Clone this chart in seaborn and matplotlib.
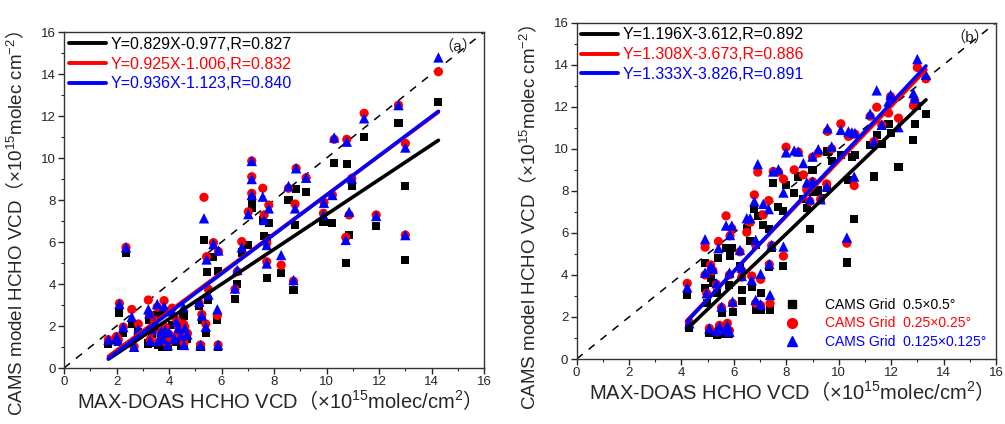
import matplotlib
matplotlib.use('Agg')
import matplotlib.pyplot as plt
from matplotlib.lines import Line2D
from matplotlib.ticker import MultipleLocator
import seaborn as sns
import numpy as np

### Scatter of CAMS model HCHO VCD vs MAX-DOAS HCHO VCD, three grid resolutions

# panel (a)
xa = [1.69, 2.00, 2.07, 2.11, 2.26, 2.36, 2.58, 2.67, 2.83, 3.21,
      3.25, 3.28, 3.35, 3.55, 3.60, 3.75, 3.81, 3.85, 3.95, 4.00,
      4.12, 4.28, 4.35, 4.45, 4.55, 4.57, 4.60, 5.15, 5.20, 5.25,
      5.33, 5.40, 5.43, 5.50, 5.69, 5.84, 5.87, 5.88, 6.51, 6.60,
      6.77, 7.02, 7.15, 7.15, 7.15, 7.57, 7.62, 7.72, 7.72, 7.80,
      8.27, 8.55, 8.74, 8.80, 8.84, 9.22, 9.88, 9.90, 10.22, 10.29,
      10.73, 10.77, 10.86, 10.96, 11.43, 11.89, 12.74, 13.00, 13.00, 14.26,
      3.45, 3.70, 4.20, 4.70]
a_grid05 = [1.17, 1.33, 1.25, 2.60, 1.68, 5.49, 2.10, 0.95, 1.70, 1.17,
            2.30, 1.20, 1.60, 2.50, 1.10, 1.00, 2.70, 1.60, 1.00, 1.35,
            2.05, 1.30, 1.50, 1.05, 2.50, 1.05, 1.85, 2.97, 1.00, 2.30,
            6.10, 1.65, 4.59, 3.25, 5.30, 2.30, 1.00, 4.60, 3.27, 3.98,
            5.50, 5.86, 8.00, 7.76, 7.60, 7.05, 6.30, 6.17, 4.27, 6.90,
            4.51, 8.00, 3.71, 6.81, 8.51, 8.40, 6.97, 6.95, 6.92, 9.75,
            5.02, 9.70, 6.33, 8.67, 11.00, 6.76, 11.68, 8.68, 5.14, 12.68,
            1.90, 1.45, 1.25, 1.40]
a_grid025 = [1.35, 1.50, 1.35, 3.08, 1.95, 5.75, 2.79, 1.02, 2.10, 3.24,
             2.55, 1.35, 1.75, 2.90, 1.25, 1.25, 3.21, 1.95, 1.20, 1.60,
             2.85, 2.30, 2.00, 1.70, 2.10, 1.20, 1.95, 3.10, 1.10, 2.55,
             8.13, 2.10, 5.30, 3.75, 5.97, 2.50, 1.10, 5.55, 3.75, 4.59,
             6.02, 7.44, 9.86, 9.11, 8.32, 8.56, 7.29, 5.94, 5.06, 7.76,
             4.90, 8.56, 4.14, 7.81, 9.51, 9.06, 7.37, 7.90, 8.24, 10.89,
             6.22, 10.89, 7.29, 9.03, 12.13, 7.29, 12.52, 10.70, 6.33, 14.11,
             2.25, 1.70, 1.45, 1.65]
a_grid0125 = [1.35, 1.47, 1.30, 3.05, 1.95, 5.75, 2.44, 1.02, 1.85, 2.80,
              2.60, 1.30, 1.85, 3.05, 1.30, 1.40, 2.95, 1.80, 1.10, 1.70,
              2.70, 2.20, 1.90, 1.55, 2.90, 1.10, 1.90, 3.16, 1.10, 2.50,
              7.13, 1.97, 5.17, 3.50, 5.90, 2.80, 1.10, 5.60, 3.79, 4.67,
              5.75, 7.33, 9.86, 9.00, 8.24, 8.16, 7.05, 5.86, 4.98, 7.60,
              5.38, 8.67, 4.19, 7.60, 9.51, 9.06, 7.29, 7.87, 8.24, 10.98,
              6.10, 10.78, 7.44, 9.03, 11.89, 7.24, 12.52, 10.50, 6.33, 14.79,
              2.15, 1.75, 1.40, 1.60]
a_slope = [0.829, 0.925, 0.936]
a_icpt = [-0.977, -1.006, -1.123]
a_r = ['0.827', '0.832', '0.840']

# panel (b)
xb = [4.22, 4.30, 4.90, 4.90, 4.96, 5.06, 5.11, 5.20, 5.34, 5.34,
      5.41, 5.45, 5.53, 5.66, 5.70, 5.75, 5.83, 5.85, 5.92, 5.95,
      5.83, 6.23, 6.30, 6.30, 6.49, 6.62, 6.68, 6.78, 6.83, 6.83,
      6.91, 7.02, 7.02, 7.12, 7.33, 7.38, 7.35, 7.44, 7.50, 7.70,
      7.89, 7.89, 7.99, 8.30, 8.46, 8.65, 8.78, 8.90, 9.00, 9.00,
      9.22, 9.31, 9.54, 9.57, 9.73, 10.08, 10.31, 10.37, 10.50, 10.59,
      10.62, 11.20, 11.35, 11.45, 11.64, 11.90, 11.98, 12.28, 12.85, 12.90,
      13.00, 13.33]
b_grid05 = [3.05, 1.46, 4.56, 3.37, 2.65, 1.22, 3.84, 3.60, 3.13, 1.14,
            4.79, 1.40, 2.17, 1.20, 5.27, 1.30, 3.50, 4.90, 5.30, 2.25,
            1.17, 4.40, 3.30, 2.75, 6.17, 5.60, 3.44, 7.13, 5.43, 2.33,
            6.80, 3.13, 2.33, 6.38, 6.20, 2.33, 4.40, 5.27, 8.37, 7.25,
            7.06, 4.43, 8.29, 7.89, 8.68, 7.60, 7.17, 6.17, 9.00, 7.97,
            8.05, 7.65, 8.13, 9.87, 9.40, 9.71, 4.59, 8.52, 9.60, 6.67,
            9.71, 10.19, 8.68, 10.67, 10.24, 11.19, 10.75, 9.13, 10.43, 11.19,
            12.02, 11.67]
b_grid025 = [3.60, 1.75, 5.32, 4.00, 3.13, 1.46, 4.48, 4.20, 3.55, 1.30,
             5.59, 1.60, 2.45, 1.55, 6.81, 1.70, 4.00, 5.86, 6.20, 2.65,
             1.35, 5.10, 4.20, 3.90, 6.03, 6.50, 3.95, 7.81, 5.43, 2.65,
             8.89, 3.79, 2.55, 6.86, 7.54, 2.65, 4.50, 5.40, 8.92, 8.90,
             8.56, 4.90, 10.08, 9.00, 9.84, 8.76, 8.05, 7.50, 9.60, 8.44,
             9.80, 7.60, 8.33, 10.83, 10.00, 11.19, 5.51, 10.59, 10.70, 8.25,
             10.70, 11.55, 10.35, 11.98, 11.14, 11.70, 12.49, 11.46, 12.05, 12.30,
             13.87, 13.33]
b_grid0125 = [3.41, 1.70, 5.70, 4.11, 3.13, 1.46, 4.40, 4.30, 3.60, 1.35,
              5.27, 1.55, 2.49, 1.40, 6.35, 1.60, 4.11, 5.90, 6.35, 2.73,
              1.30, 5.19, 4.35, 3.95, 6.70, 6.70, 3.76, 7.50, 5.67, 2.81,
              9.27, 4.05, 2.60, 7.38, 7.13, 3.05, 4.52, 5.43, 8.92, 9.03,
              7.92, 5.35, 9.83, 9.92, 9.87, 9.32, 8.40, 7.60, 9.63, 8.44,
              9.98, 7.60, 8.21, 10.98, 10.11, 10.90, 5.78, 10.83, 10.78, 8.68,
              10.75, 11.67, 10.35, 12.78, 11.14, 12.25, 12.57, 11.03, 12.65, 12.40,
              14.27, 13.52]
b_slope = [1.196, 1.308, 1.333]
b_icpt = [-3.612, -3.673, -3.826]
b_r = ['0.892', '0.886', '0.891']

grid_names = ['0.5\u00d70.5\u00b0', '0.25\u00d70.25\u00b0', '0.125\u00d70.125\u00b0']
colors = ['black', 'red', 'blue']
markers = ['s', 'o', '^']
sizes = [34, 44, 56]
axis_ticks = list(range(0, 17, 2))

sns.set_style('ticks')
plt.rcParams['font.family'] = ['Liberation Sans', 'Noto Sans CJK SC', 'DejaVu Sans']
plt.rcParams['mathtext.fontset'] = 'custom'
plt.rcParams['mathtext.rm'] = 'Liberation Sans'
plt.rcParams['mathtext.it'] = 'Liberation Sans:italic'
plt.rcParams['mathtext.bf'] = 'Liberation Sans:bold'
plt.rcParams['mathtext.sf'] = 'Noto Sans CJK SC'  # only for the full-width brackets

XLAB = ('MAX-DOAS HCHO VCD$\\mathsf{\uff08}$\u00d710$\\mathregular{^{15}}$'
        'molec/cm$\\mathregular{^{2}}$$\\mathsf{\uff09}$')
YLAB = ('CAMS model HCHO VCD$\\mathsf{\uff08}$\u00d710$\\mathregular{^{15}}$'
        'molec cm$\\mathregular{^{-2}}$$\\mathsf{\uff09}$')

fig = plt.figure(figsize=(10.05, 4.24), dpi=100)
ax_a = fig.add_axes([0.0637, 0.132, 0.418, 0.7925])
ax_b = fig.add_axes([0.5738, 0.1533, 0.4172, 0.7932])


def eq_label(k, b, r):
    sign = '-' if b < 0 else '+'
    return f'Y={k:.3f}X{sign}{abs(b):.3f},R={r}'


def draw_panel(ax, x, series, slopes, icpts, rs, tag, ylab_y):
    # 1:1 line
    sns.lineplot(x=[0, 16], y=[0, 16], ax=ax, color='black', lw=1.1,
                 linestyle=(0, (5, 5)), legend=False)
    for ys, c, m, s in zip(series, colors, markers, sizes):
        sns.scatterplot(x=x, y=ys, ax=ax, color=c, marker=m, s=s,
                        edgecolor='none', linewidth=0, legend=False, zorder=3)
    xs = np.array([min(x), max(x)])
    handles = []
    for k, b, c in zip(slopes, icpts, colors):
        sns.lineplot(x=xs, y=k * xs + b, ax=ax, color=c, lw=2.6, legend=False, zorder=4)
        handles.append(Line2D([], [], color=c, lw=2.8))
    labels = [eq_label(k, b, r) for k, b, r in zip(slopes, icpts, rs)]
    leg = ax.legend(handles, labels, loc='upper left', frameon=False, fontsize=11.5,
                    handlelength=2.3, handletextpad=0.3, labelspacing=0.3,
                    borderaxespad=0.1, borderpad=0.2)
    for t, c in zip(leg.get_texts(), colors):
        t.set_color(c)

    ax.set_xlim(0, 16)
    ax.set_ylim(0, 16)
    ax.set_xticks(axis_ticks)
    ax.set_yticks(axis_ticks)
    ax.xaxis.set_minor_locator(MultipleLocator(1))
    ax.yaxis.set_minor_locator(MultipleLocator(1))
    ax.tick_params(which='major', direction='out', length=4, width=1,
                   labelsize=9.5, top=False, right=False, pad=2)
    ax.tick_params(which='minor', direction='out', length=2.5, width=0.8,
                   top=False, right=False)
    for sp in ax.spines.values():
        sp.set_visible(True)
        sp.set_linewidth(1.0)
        sp.set_color('#333333')

    ax.set_xlabel(XLAB, fontsize=14.5, labelpad=0)
    ax.set_ylabel(YLAB, fontsize=13.5)
    ax.yaxis.set_label_coords(-0.09, ylab_y)
    ax.text(15.0, 15.3, tag, fontsize=11, ha='center', va='center', color='#222222')
    return leg


draw_panel(ax_a, xa, [a_grid05, a_grid025, a_grid0125], a_slope, a_icpt, a_r,
           '\uff08a\uff09', 0.43)
eq_leg = draw_panel(ax_b, xb, [b_grid05, b_grid025, b_grid0125], b_slope, b_icpt, b_r,
                    '\uff08b\uff09', 0.42)
ax_b.add_artist(eq_leg)

mk_handles = [Line2D([], [], ls='', marker=m, color=c, markersize=ms)
              for m, c, ms in zip(markers, colors, [6, 7, 7.5])]
mk_labels = ['CAMS Grid  ' + g for g in grid_names]
leg2 = ax_b.legend(mk_handles, mk_labels, loc='lower right', frameon=False, fontsize=10,
                   handletextpad=1.4, labelspacing=0.35, borderaxespad=0.3)
for t, c in zip(leg2.get_texts(), colors):
    t.set_color(c)

plt.savefig('out.png', dpi=100)
plt.close()
